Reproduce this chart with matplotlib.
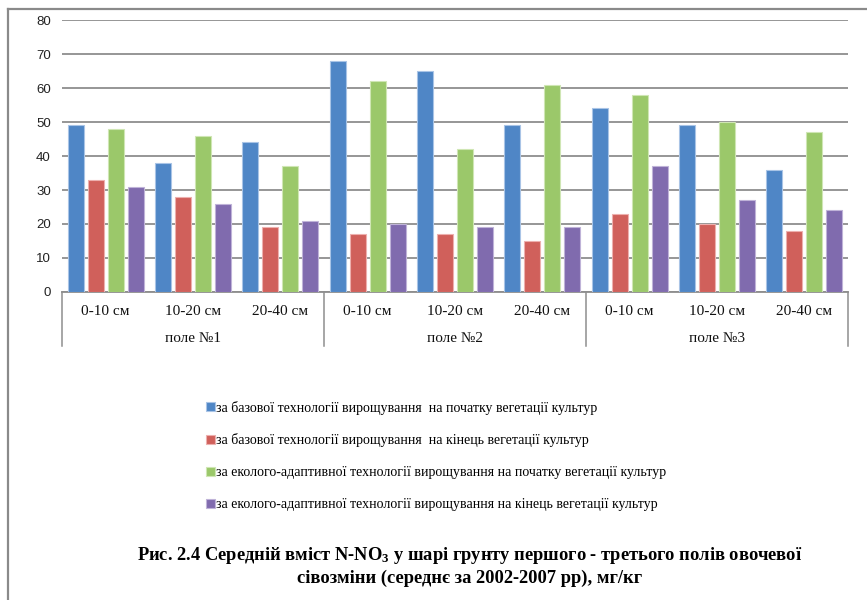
import matplotlib
matplotlib.use("Agg")
import matplotlib.pyplot as plt
from matplotlib.lines import Line2D
import numpy as np

fields = ["поле №1", "поле №2", "поле №3"]
layers = ["0-10 см", "10-20 см", "20-40 см"]
series_names = [
    "за базової технології вирощування  на початку вегетації культур",
    "за базової технології вирощування  на кінець вегетації культур",
    "за еколого-адаптивної технології вирощування на початку вегетації культур",
    "за еколого-адаптивної технології вирощування на кінець вегетації культур",
]
base_start = [49, 38, 44, 68, 65, 49, 54, 49, 36]
base_end = [33, 28, 19, 17, 17, 15, 23, 20, 18]
eco_start = [48, 46, 37, 62, 42, 61, 58, 50, 47]
eco_end = [31, 26, 21, 20, 19, 19, 37, 27, 24]
y_ticks = [0, 10, 20, 30, 40, 50, 60, 70, 80]

series = [base_start, base_end, eco_start, eco_end]
colors = ["#4F86C6", "#D0605B", "#9BC86A", "#806BAE"]
edges = ["#A9C4E6", "#EDB0AE", "#CFE6B4", "#BFB3D8"]

serif = ["Liberation Serif", "DejaVu Serif"]
sans = ["Liberation Sans", "DejaVu Sans"]

fig = plt.figure(figsize=(8.67, 6.0), dpi=100)
W, H = 867, 600
left, right, top, bottom = 62, 848, 20, 292
ax = fig.add_axes([left / W, 1 - bottom / H, (right - left) / W, (bottom - top) / H])

n_cat = len(base_start)
x = np.arange(n_cat)
bw = 0.183
step = 0.228
for i, (vals, c, ec) in enumerate(zip(series, colors, edges)):
    ax.bar(x + (i - 1.5) * step, vals, width=bw, color=c, edgecolor=ec,
           linewidth=0.8, zorder=3, label=series_names[i])

ax.set_xlim(-0.5, n_cat - 0.5)
ax.set_ylim(0, 80)
ax.set_yticks(y_ticks)
ax.set_yticklabels([str(t) for t in y_ticks], family=sans, fontsize=9.5, color="#222222")
ax.tick_params(axis="y", length=0, pad=8)
ax.yaxis.grid(True, color="#8E8E8E", linewidth=1.3, zorder=0)
for s in ["left", "right", "top"]:
    ax.spines[s].set_visible(False)
ax.spines["bottom"].set_color("#8E8E8E")
ax.spines["bottom"].set_linewidth(1.3)
ax.set_xticks([])

# two-level category axis
for k in range(n_cat):
    ax.text(k, -5.6, layers[k % 3], ha="center", va="center", family=serif,
            fontsize=11, color="#111111", clip_on=False)
for f, name in enumerate(fields):
    ax.text(f * 3 + 1, -13.6, name, ha="center", va="center", family=serif,
            fontsize=11, color="#111111", clip_on=False)
for b in [-0.5, 2.5, 5.5, 8.5]:
    ax.add_line(Line2D([b, b], [0, -15.8], color="#8E8E8E", linewidth=1.1,
                       clip_on=False))

# legend
handles, labels = ax.get_legend_handles_labels()
leg = fig.legend(handles, labels, loc="upper left", bbox_to_anchor=(200 / W, 1 - 395 / H),
                 frameon=False, prop={"family": serif, "size": 10},
                 handlelength=0.65, handleheight=0.65, handletextpad=0.1,
                 labelspacing=1.36, borderaxespad=0)

fig.text(470 / W, 1 - 555 / H,
         r"Рис. 2.4 Середній вміст N-NO$\mathregular{_3}$ у шарі грунту першого - третього полів овочевої",
         ha="center", va="center", family=serif, fontweight="bold", fontsize=13.3)
fig.text(470 / W, 1 - 578 / H, "сівозміни (середнє за 2002-2007 рр), мг/кг",
         ha="center", va="center", family=serif, fontweight="bold", fontsize=13.3)

# outer frame
fig.add_artist(Line2D([8 / W, 8 / W], [0, 1 - 9 / H], color="#8A8A8A", linewidth=1.6,
                      transform=fig.transFigure))
fig.add_artist(Line2D([8 / W, 1], [1 - 9 / H, 1 - 9 / H], color="#8A8A8A", linewidth=1.6,
                      transform=fig.transFigure))

fig.savefig("out.png", dpi=100)
